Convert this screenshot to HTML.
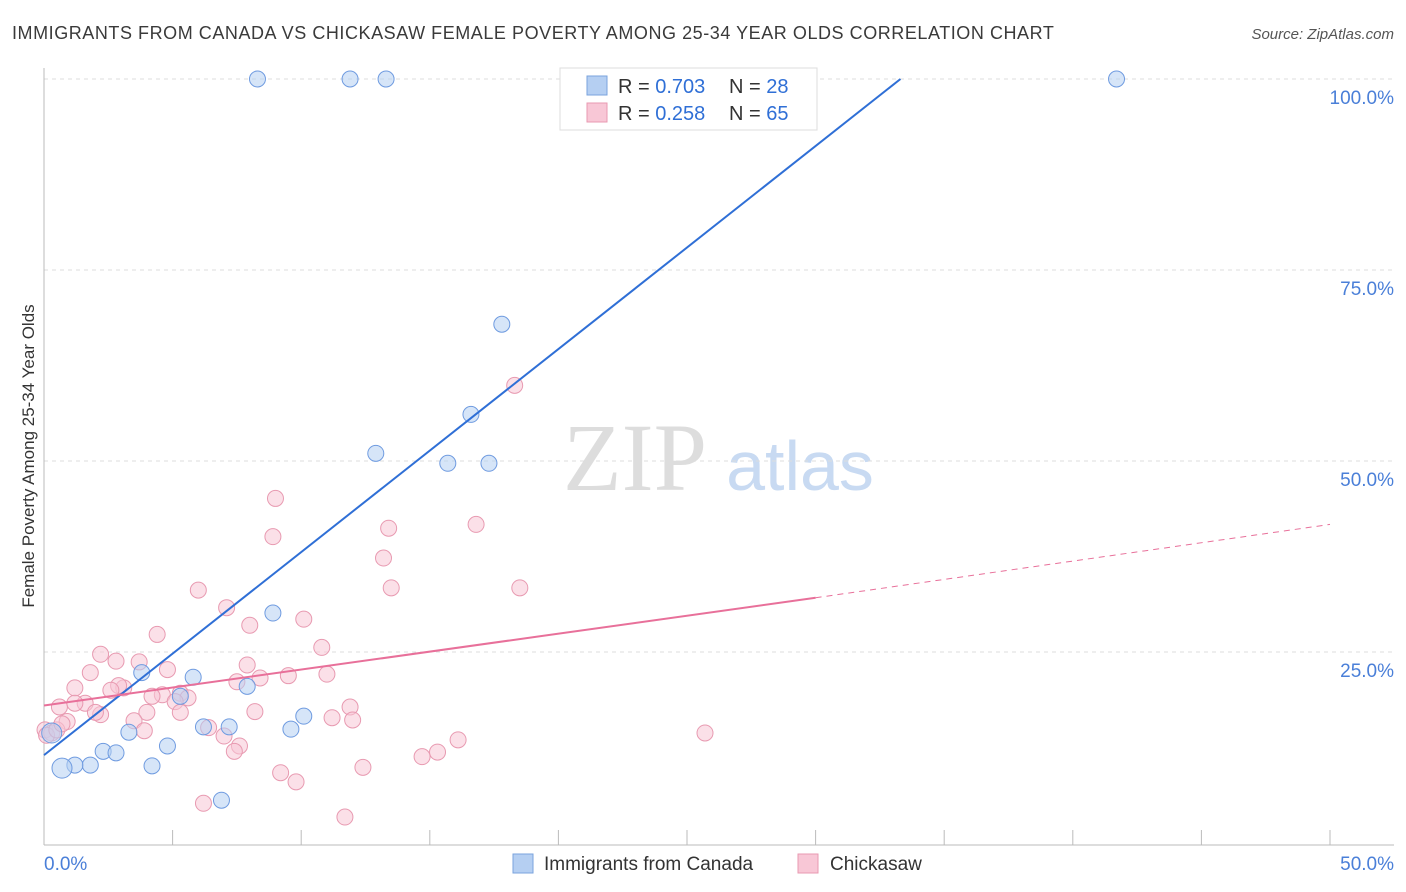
<!DOCTYPE html>
<html><head><meta charset="utf-8"><style>
body{margin:0;background:#fff;font-family:"Liberation Sans",sans-serif;}
svg{display:block}
</style></head><body>
<svg id="c" width="1406" height="892">
<text x="12" y="39" font-size="18" fill="#3a3a3a" letter-spacing="0.55">IMMIGRANTS FROM CANADA VS CHICKASAW FEMALE POVERTY AMONG 25-34 YEAR OLDS CORRELATION CHART</text>
<text x="1394" y="39" font-size="15" fill="#555" font-style="italic" text-anchor="end">Source: ZipAtlas.com</text>
<text x="34" y="456" font-size="17" fill="#333" text-anchor="middle" transform="rotate(-90 34 456)">Female Poverty Among 25-34 Year Olds</text>
<text x="635" y="490" font-size="96" fill="#ddd" font-family="Liberation Serif,serif" text-anchor="middle">ZIP</text>
<text x="800" y="490" font-size="70" fill="#c8daf2" text-anchor="middle">atlas</text>
<g id="grid"></g><g id="marks"></g>
<g>
<rect x="560" y="68" width="257" height="62" fill="#fff" stroke="#ddd"/>
<rect x="587" y="76" width="20" height="19" fill="#b5cff2" stroke="#7aa3dd"/>
<text x="618" y="93" font-size="20" fill="#333">R = <tspan fill="#2f6fd6">0.703</tspan></text>
<text x="729" y="93" font-size="20" fill="#333">N = <tspan fill="#2f6fd6">28</tspan></text>
<rect x="587" y="103" width="20" height="19" fill="#f8c7d6" stroke="#e89ab1"/>
<text x="618" y="120" font-size="20" fill="#333">R = <tspan fill="#2f6fd6">0.258</tspan></text>
<text x="729" y="120" font-size="20" fill="#333">N = <tspan fill="#2f6fd6">65</tspan></text>
</g>
<g>
<rect x="513" y="854" width="20" height="19" fill="#b5cff2" stroke="#7aa3dd"/>
<text x="544" y="870" font-size="19" fill="#333">Immigrants from Canada</text>
<rect x="798" y="854" width="20" height="19" fill="#f8c7d6" stroke="#e89ab1"/>
<text x="830" y="870" font-size="19" fill="#333">Chickasaw</text>
</g>
</svg>
<script>
const yTicks=[25,50,75,100];
const xTickLabels=["0.0%","50.0%"];
const blueX=[8.3,11.9,13.3,41.7,17.8,16.6,12.9,15.7,17.3,8.9,5.8,3.8,5.3,7.9,10.1,9.6,6.2,7.2,3.3,4.8,2.3,2.8,4.2,1.8,1.2,0.7,0.3,6.9];
const blueY=[100,100,100,100,67.9,56.1,51.0,49.7,49.7,30.1,21.7,22.3,19.2,20.5,16.6,14.9,15.2,15.2,14.5,12.7,12.0,11.8,10.1,10.2,10.2,9.8,14.4,5.6];
const pinkX=[18.3,9.0,16.8,13.4,8.9,13.2,13.5,18.5,6.0,7.1,10.1,8.0,4.4,10.8,2.2,2.8,3.7,7.9,4.8,1.8,11.0,9.5,8.4,7.5,3.1,2.9,1.2,5.3,4.6,5.6,2.6,4.2,5.1,1.6,0.6,11.9,4.0,5.3,2.2,2.0,8.2,11.2,3.5,0.9,12.0,6.4,3.9,0.04,0.3,7.0,16.1,25.7,7.6,15.3,7.4,14.7,12.4,9.2,9.8,6.2,11.7,0.1,0.5,1.2,0.7];
const pinkY=[59.9,45.1,41.7,41.2,40.1,37.3,33.4,33.4,33.1,30.8,29.3,28.5,27.3,25.6,24.7,23.8,23.7,23.3,22.7,22.3,22.1,21.9,21.6,21.1,20.3,20.6,20.3,19.6,19.4,19.0,20.0,19.2,18.5,18.3,17.8,17.8,17.1,17.1,16.8,17.1,17.2,16.4,16.0,15.9,16.1,15.1,14.7,14.8,14.4,14.0,13.5,14.4,12.7,11.9,12.0,11.3,9.9,9.2,8.0,5.2,3.4,14.1,14.8,18.3,15.6];
const blueLine=[0,11.5,33.3,100];
const pinkLine=[0,18,30,32.1,50,41.7];
const X=v=>44+v/50*1286, Y=v=>843-v/100*764;
const ns="http://www.w3.org/2000/svg",g=document.getElementById('grid'),m=document.getElementById('marks');
function mk(t,a,p){const e=document.createElementNS(ns,t);for(const k in a)e.setAttribute(k,a[k]);p.appendChild(e);return e;}
yTicks.forEach(t=>{const l=mk('line',{x1:44,x2:1394,y1:Y(t),y2:Y(t),stroke:'#ddd','stroke-dasharray':'4,4'},g);


const tx=mk('text',{x:1394,y:Y(t)+25,'font-size':19,fill:'#4a7fd8','text-anchor':'end'},g);tx.textContent=t.toFixed(1)+'%';

});
const ax=mk('line',{x1:44,x2:1394,y1:845,y2:845,stroke:'#bbb'},g);


const ay=mk('line',{x1:44,x2:44,y1:68,y2:845,stroke:'#bbb'},g);


for(let i=0;i<=10;i++){const tk=mk('line',{x1:X(i*5),x2:X(i*5),y1:830,y2:845,stroke:'#bbb'},g);

}
[[0,'start',44],[50,'end',1394]].forEach((d,i)=>{const t=mk('text',{x:d[2],y:870,'font-size':19,fill:'#4a7fd8','text-anchor':d[1]},g);t.textContent=xTickLabels[i];

});
function dots(xs,ys,f,s,n){xs.forEach((x,i)=>{const big=(n==='canada-point'&&(i===25||i===26));const c=mk('circle',{cx:X(x),cy:Y(ys[i]),r:big?10:8,fill:f,'fill-opacity':0.55,stroke:s,'stroke-width':1},m);

});}
dots(pinkX,pinkY,'#f8c7d6','#e89ab1','chickasaw-point');
dots(blueX,blueY,'#b5cff2','#6f9be0','canada-point');
const bl=mk('line',{x1:X(blueLine[0]),y1:Y(blueLine[1]),x2:X(blueLine[2]),y2:Y(blueLine[3]),stroke:'#2f6fd6','stroke-width':2},m);


const pl=mk('line',{x1:X(pinkLine[0]),y1:Y(pinkLine[1]),x2:X(pinkLine[2]),y2:Y(pinkLine[3]),stroke:'#e8709a','stroke-width':2},m);


const pd=mk('line',{x1:X(pinkLine[2]),y1:Y(pinkLine[3]),x2:X(pinkLine[4]),y2:Y(pinkLine[5]),stroke:'#e8709a','stroke-width':1,'stroke-dasharray':'6,5'},m);


</script>
</body></html>
